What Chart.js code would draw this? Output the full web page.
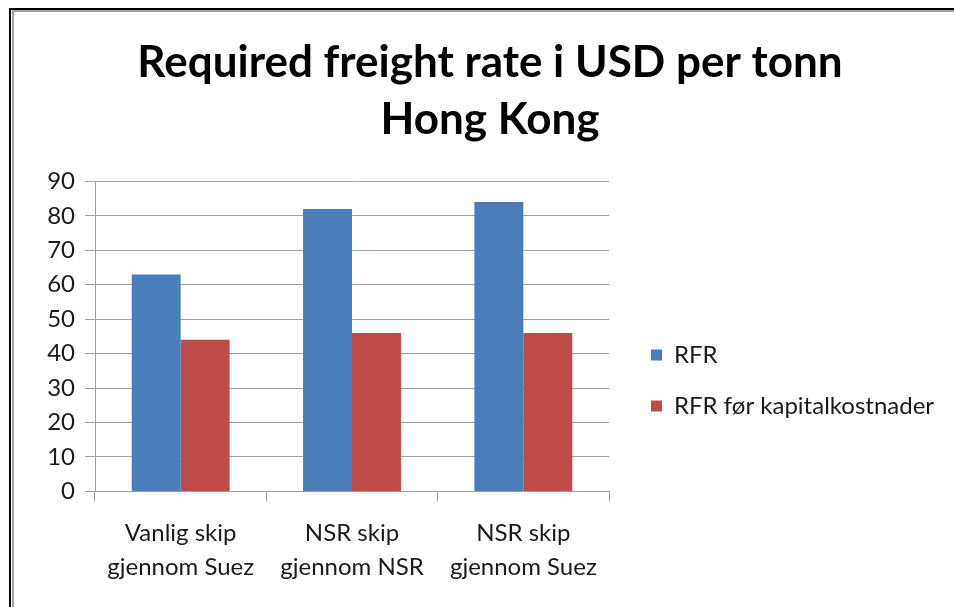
<!DOCTYPE html>
<html>
<head>
<meta charset="utf-8">
<script src="https://cdn.jsdelivr.net/npm/chart.js@4/dist/chart.umd.min.js"></script>
<style>
  html, body { margin: 0; padding: 0; background: #fff; }
  #wrap { position: relative; width: 954px; height: 607px; }
</style>
</head>
<body>
<div id="wrap"><canvas id="c" width="954" height="607"></canvas></div>
<script>
const categories = [['Vanlig skip', 'gjennom Suez'], ['NSR skip', 'gjennom NSR'], ['NSR skip', 'gjennom Suez']];
const seriesNames = ['RFR', 'RFR før kapitalkostnader'];
const rfrValues = [63, 82, 84];
const rfrBeforeCapitalValues = [44, 46, 46];
const yTicks = [0, 10, 20, 30, 40, 50, 60, 70, 80, 90];
const titleLines = ['Required freight rate i USD per tonn', 'Hong Kong'];

const FONT = 'Lato, "Open Sans", "Liberation Sans", sans-serif';
const GRID = '#a0a0a0';
const TEXT = '#1a1a1a';

const framePlugin = {
  id: 'frame',
  beforeDraw(chart) {
    const ctx = chart.ctx;
    ctx.save();
    ctx.fillStyle = '#ffffff';
    ctx.fillRect(0, 0, chart.width, chart.height);
    ctx.fillStyle = '#000000';
    ctx.fillRect(9, 8, chart.width - 9, 2);
    ctx.fillRect(9, 8, 2, chart.height - 8);
    ctx.fillStyle = '#a0a0a0';
    ctx.fillRect(12, 10, chart.width - 12, 2);
    ctx.fillRect(12, 10, 2, chart.height - 10);
    ctx.restore();
  }
};

const legendWidthPlugin = {
  id: 'legendWidth',
  beforeLayout(chart) {
    const lg = chart.legend;
    if (lg && !lg._patched) {
      const orig = lg.fit.bind(lg);
      lg.fit = function () { orig(); this.width = 330; };
      lg._patched = true;
    }
  }
};

new Chart(document.getElementById('c'), {
  type: 'bar',
  data: {
    labels: categories,
    datasets: [
      { label: seriesNames[0], data: rfrValues, backgroundColor: '#4a7ebb', borderWidth: 0 },
      { label: seriesNames[1], data: rfrBeforeCapitalValues, backgroundColor: '#be4b48', borderWidth: 0 }
    ]
  },
  plugins: [framePlugin, legendWidthPlugin],
  options: {
    responsive: false,
    animation: false,
    devicePixelRatio: 1,
    layout: { padding: { left: 26, right: 0, top: 0, bottom: 8 } },
    datasets: { bar: { barPercentage: 1, categoryPercentage: 0.5714 } },
    plugins: {
      tooltip: { enabled: false },
      title: {
        display: true,
        text: titleLines,
        color: '#000',
        font: { family: FONT, size: 44, weight: 'bold', lineHeight: 1.3 },
        padding: { top: 34, bottom: 33 }
      },
      legend: {
        display: true,
        position: 'right',
        align: 'start',
        title: { display: true, text: ' ', font: { size: 10, lineHeight: 1.2 }, padding: { top: 304, bottom: 0 } },
        labels: {
          boxWidth: 11,
          boxHeight: 11,
          padding: 27,
          color: TEXT,
          font: { family: FONT, size: 24 }
        }
      }
    },
    scales: {
      x: {
        offset: true,
        grid: { display: true, drawOnChartArea: false, drawTicks: true, tickLength: 10, color: GRID, offset: true },
        border: { display: true, color: GRID, width: 1 },
        ticks: { color: TEXT, padding: 14, maxRotation: 0, font: { family: FONT, size: 24, lineHeight: 1.45 } }
      },
      y: {
        min: 0,
        max: 90,
        afterBuildTicks(axis) { axis.ticks = yTicks.map(v => ({ value: v })); },
        afterFit(axis) { axis.width = 69; },
        grid: { color: GRID, tickLength: 10, drawTicks: true },
        border: { display: true, color: GRID, width: 1 },
        ticks: { color: TEXT, padding: 10, font: { family: FONT, size: 24 } }
      },
      yPad: {
        position: 'right',
        display: true,
        afterFit(axis) { axis.width = 15; },
        grid: { display: false },
        border: { display: false },
        ticks: { display: false }
      }
    }
  }
});
</script>
</body>
</html>
